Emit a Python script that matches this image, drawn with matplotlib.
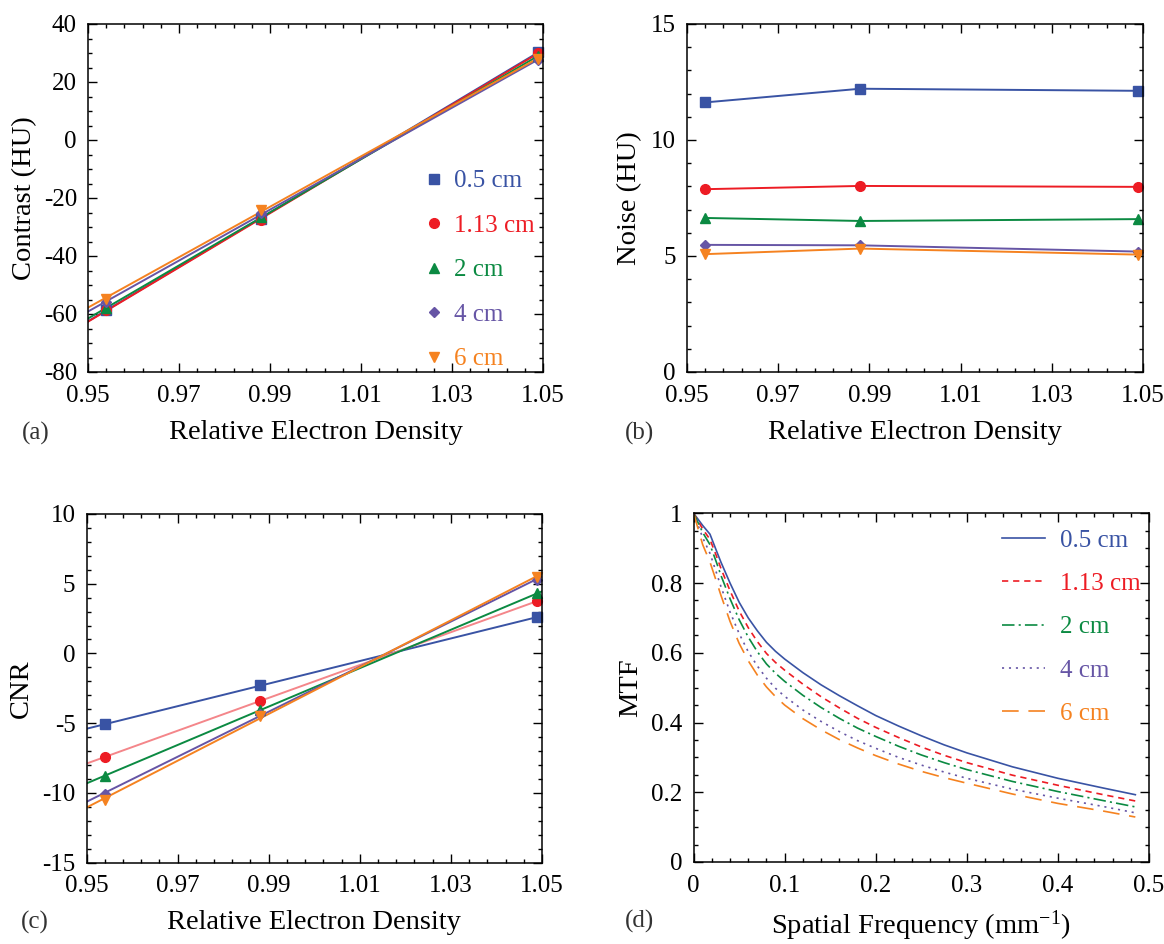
import numpy as np
import matplotlib
matplotlib.use('Agg')
import matplotlib.pyplot as plt
from matplotlib.lines import Line2D
from matplotlib.ticker import FormatStrFormatter

plt.rcParams['font.family'] = ['Liberation Serif', 'DejaVu Serif']
plt.rcParams['mathtext.default'] = 'regular'
plt.rcParams['axes.unicode_minus'] = False
plt.rcParams['lines.scale_dashes'] = False

# series
sizes = ['0.5 cm', '1.13 cm', '2 cm', '4 cm', '6 cm']
colors = ['#3953a4', '#ed1c24', '#0b8a42', '#6655a5', '#f58220']
cnr_line_colors = ['#3953a4', '#f4868a', '#0b8a42', '#6655a5', '#f58220']
markers = ['s', 'o', '^', 'D', 'v']
msizes = [6.5, 7, 7, 5.5, 7]

density = [0.954, 0.988, 1.049]
contrast = [[-58.5, -27.3, 30.4],
            [-58.6, -27.6, 30.1],
            [-58.0, -26.6, 29.0],
            [-56.0, -25.2, 27.6],
            [-54.8, -24.0, 28.0]]
noise = [[11.62, 12.21, 12.12],
         [7.88, 8.02, 7.98],
         [6.64, 6.51, 6.59],
         [5.48, 5.46, 5.19],
         [5.08, 5.32, 5.06]]
cnr = [[-5.1, -2.3, 2.6],
       [-7.45, -3.4, 3.75],
       [-8.8, -4.05, 4.3],
       [-10.1, -4.35, 5.3],
       [-10.5, -4.5, 5.5]]

freq = [0, 0.01, 0.018, 0.025, 0.03, 0.04, 0.05, 0.06, 0.07, 0.08, 0.09, 0.1,
        0.12, 0.14, 0.16, 0.18, 0.2, 0.225, 0.25, 0.275, 0.3, 0.35, 0.4, 0.45, 0.485]
mtf_05 = [1.0, 0.965, 0.94, 0.893, 0.86, 0.80, 0.745, 0.70, 0.663, 0.63, 0.604, 0.582,
          0.543, 0.508, 0.477, 0.448, 0.42, 0.39, 0.362, 0.336, 0.313, 0.273, 0.240,
          0.212, 0.193]
mtf_113 = [1.0, 0.955, 0.925, 0.878, 0.842, 0.778, 0.72, 0.672, 0.632, 0.598, 0.572, 0.55,
           0.51, 0.474, 0.442, 0.412, 0.386, 0.357, 0.33, 0.306, 0.285, 0.249, 0.22,
           0.193, 0.175]
mtf_2 = [1.0, 0.945, 0.91, 0.86, 0.822, 0.755, 0.695, 0.645, 0.603, 0.568, 0.541, 0.518,
         0.478, 0.443, 0.412, 0.384, 0.36, 0.332, 0.307, 0.285, 0.265, 0.231, 0.202,
         0.176, 0.158]
mtf_4 = [1.0, 0.93, 0.885, 0.83, 0.79, 0.717, 0.655, 0.603, 0.562, 0.527, 0.498, 0.475,
         0.436, 0.403, 0.374, 0.348, 0.326, 0.3, 0.278, 0.258, 0.24, 0.209, 0.183,
         0.159, 0.141]
mtf_6 = [1.0, 0.91, 0.86, 0.805, 0.765, 0.69, 0.627, 0.577, 0.536, 0.502, 0.474, 0.45,
         0.411, 0.379, 0.351, 0.327, 0.305, 0.281, 0.26, 0.242, 0.226, 0.195, 0.168,
         0.146, 0.129]
mtf = [mtf_05, mtf_113, mtf_2, mtf_4, mtf_6]
mtf_styles = ['-', (0, (4.5, 3.5)), (0, (9, 3, 1.5, 3)), (0, (1.5, 3.5)), (0, (12, 7))]

W, H = 1164, 944
fig = plt.figure(figsize=(W / 100, H / 100), dpi=100)


def box(l, t, r, b):
    return [l / W, 1 - b / H, (r - l) / W, (b - t) / H]


def style(ax):
    ax.tick_params(which='both', direction='in', top=True, right=True,
                   labelsize=18, width=1.0)
    ax.tick_params(which='major', length=6.5)
    ax.tick_params(which='minor', length=3.2)
    ax.tick_params(axis='x', pad=9)
    ax.tick_params(axis='y', pad=8)
    for s in ax.spines.values():
        s.set_linewidth(1.1)


def density_axis(ax):
    ax.set_xlim(0.95, 1.05)
    ax.set_xticks([0.95, 0.97, 0.99, 1.01, 1.03, 1.05])
    ax.set_xticks(np.arange(0.95, 1.0501, 0.004), minor=True)
    ax.xaxis.set_major_formatter(FormatStrFormatter('%.2f'))
    ax.set_xlabel('Relative Electron Density', fontsize=20.5)


def place_labels(ax, xl_y, yl_x):
    ax.xaxis.label.set_va('center')
    ax.yaxis.label.set_va('center')
    ax.xaxis.set_label_coords(0.5, xl_y)
    ax.yaxis.set_label_coords(yl_x, 0.5)


xfit = np.array([0.95, 1.05])

# (a) contrast
ax = fig.add_axes(box(88, 24, 543, 372))
style(ax)
density_axis(ax)
for i in range(5):
    k, c0 = np.polyfit(density, contrast[i], 1)
    ax.plot(xfit, k * xfit + c0, color=colors[i], lw=1.4)
for i in range(5):
    ax.plot(density, contrast[i], ls='none', marker=markers[i], ms=msizes[i],
            color=colors[i], clip_on=False)
ax.set_ylim(-80, 40)
ax.set_yticks(np.arange(-80, 41, 20))
ax.set_yticks(np.arange(-80, 41, 5), minor=True)
ax.set_ylabel('Contrast (HU)', fontsize=20.5)
place_labels(ax, -0.175, -0.14)
handles = [Line2D([], [], ls='none', marker=markers[i], ms=msizes[i], color=colors[i])
           for i in range(5)]
ax.legend(handles, sizes, loc='upper left', bbox_to_anchor=(0.733, 0.581),
          frameon=False, fontsize=18, handlelength=1.0, handletextpad=0.3,
          labelspacing=0.88, borderpad=0, borderaxespad=0, labelcolor=colors)

# (b) noise
ax = fig.add_axes(box(687, 24, 1143, 372))
style(ax)
density_axis(ax)
for i in range(5):
    ax.plot(density, noise[i], color=colors[i], lw=1.4, marker=markers[i],
            ms=msizes[i], clip_on=False)
ax.set_ylim(0, 15)
ax.set_yticks([0, 5, 10, 15])
ax.set_yticks(np.arange(0, 15.1, 1), minor=True)
ax.set_ylabel('Noise (HU)', fontsize=20.5)
place_labels(ax, -0.175, -0.125)

# (c) CNR
ax = fig.add_axes(box(86.5, 514, 542, 862.5))
style(ax)
density_axis(ax)
for i in range(5):
    k, c0 = np.polyfit(density, cnr[i], 1)
    ax.plot(xfit, k * xfit + c0, color=cnr_line_colors[i], lw=1.4)
for i in range(5):
    ax.plot(density, cnr[i], ls='none', marker=markers[i], ms=msizes[i],
            color=colors[i], clip_on=False)
ax.set_ylim(-15, 10)
ax.set_yticks(np.arange(-15, 11, 5))
ax.set_yticks(np.arange(-15, 10.1, 1), minor=True)
ax.set_ylabel('CNR', fontsize=20.5)
place_labels(ax, -0.173, -0.143)

# (d) MTF
ax = fig.add_axes(box(693.6, 513.3, 1149, 862))
style(ax)
for i in range(5):
    ax.plot(freq, mtf[i], color=colors[i], lw=1.2, ls=mtf_styles[i], label=sizes[i])
ax.set_xlim(0, 0.5)
ax.set_ylim(0, 1)
ax.set_xticks(np.arange(0, 0.51, 0.1))
ax.set_xticks(np.arange(0, 0.501, 0.02), minor=True)
ax.set_yticks(np.arange(0, 1.01, 0.2))
ax.set_yticks(np.arange(0, 1.001, 0.05), minor=True)
ax.xaxis.set_major_formatter(FormatStrFormatter('%g'))
ax.yaxis.set_major_formatter(FormatStrFormatter('%g'))
ax.set_xlabel('Spatial Frequency (mm$^{-1}$)', fontsize=20.5)
ax.set_ylabel('MTF', fontsize=20.5)
place_labels(ax, -0.184, -0.1376)
ax.legend(loc='upper left', bbox_to_anchor=(0.677, 0.954), frameon=False,
          fontsize=18, handlelength=1.73, handletextpad=0.6, labelspacing=0.83,
          borderpad=0, borderaxespad=0, labelcolor='linecolor')

# panel letters
for lab, x, y in [('(a)', 36, 433), ('(b)', 639, 433), ('(c)', 35, 922), ('(d)', 639, 921)]:
    fig.text(x / W, 1 - y / H, lab, fontsize=18, color='#333333', ha='center', va='center')

fig.savefig('out.png', dpi=100)
